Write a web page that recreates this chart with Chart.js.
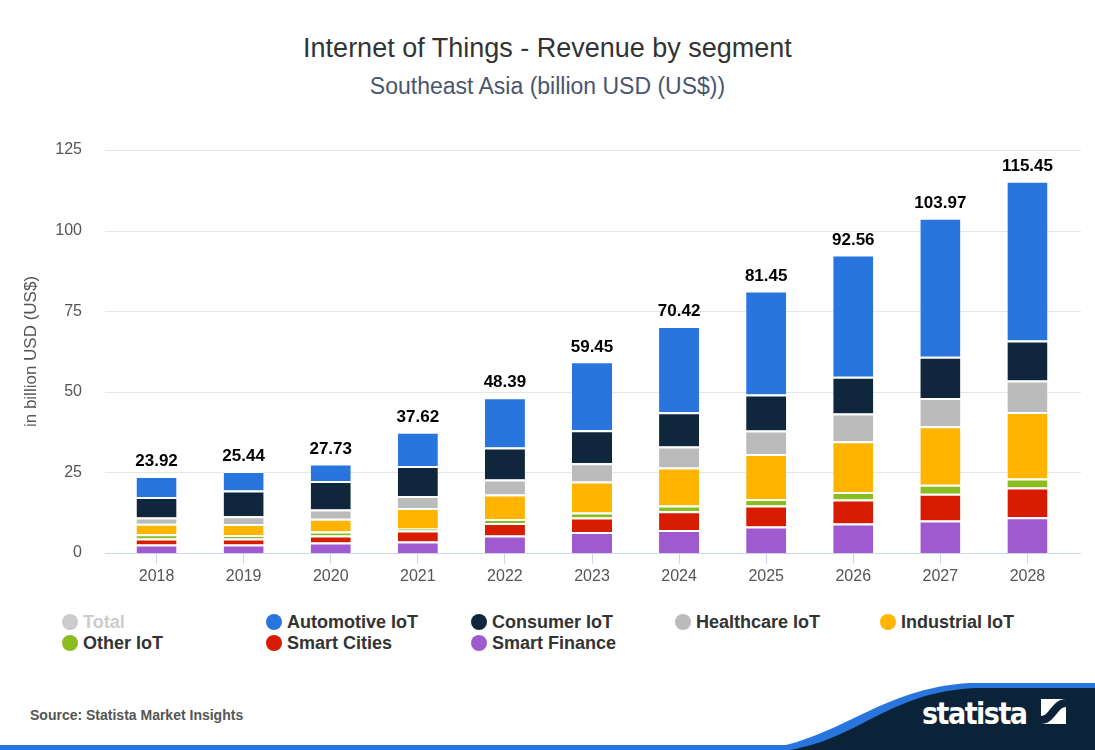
<!DOCTYPE html>
<html>
<head>
<meta charset="utf-8">
<script src="https://cdn.jsdelivr.net/npm/chart.js@4"></script>
<style>
  html, body { margin: 0; padding: 0; background: #fff; }
  body { width: 1095px; height: 750px; position: relative; overflow: hidden; font-family: "Liberation Sans", Arial, sans-serif; }
  #title { position: absolute; top: 33px; left: 0; width: 1095px; text-align: center; font-size: 27px; color: #333; }
  #subtitle { position: absolute; top: 73px; left: 0; width: 1095px; text-align: center; font-size: 23px; color: #4a5570; }
  #wrap { position: absolute; left: 0; top: 0; width: 1095px; height: 600px; }
  #legend { position: absolute; left: 0; top: 612px; width: 1095px; }
  .item { position: absolute; font-size: 18px; font-weight: bold; color: #333; white-space: nowrap; }
  .dot { position: absolute; width: 16px; height: 16px; border-radius: 50%; left: -21px; top: 2px; }
  #source { position: absolute; left: 30px; top: 707px; font-size: 14px; font-weight: bold; color: #555; }
  #footer { position: absolute; left: 0; top: 670px; }
</style>
</head>
<body>
<div id="title">Internet of Things - Revenue by segment</div>
<div id="subtitle">Southeast Asia (billion USD (US$))</div>
<div id="wrap"><canvas id="chart"></canvas></div>
<div id="legend"></div>
<div id="source">Source: Statista Market Insights</div>
<svg id="footer" width="1095" height="80" viewBox="0 670 1095 80">
  <rect x="0" y="745" width="1095" height="5" fill="#2876dd"/>
  <path d="M 760 750 C 840 740, 880 688, 970 683 L 1095 683 L 1095 750 Z" fill="#2876dd"/>
  <path d="M 790 750 C 860 738, 890 692, 975 688 L 1095 688 L 1095 750 Z" fill="#0b2338"/>
  <text x="922" y="724" fill="#fff" font-family="'DejaVu Sans Condensed', 'DejaVu Sans', sans-serif" font-weight="bold" font-size="30" textLength="106">statista</text>
  <rect x="1041" y="699" width="25" height="25" fill="#fff"/>
  <path d="M 1041 724 L 1041 716 C 1050 716, 1052 699, 1066 699 L 1066 707 C 1057 707, 1055 724, 1041 724 Z" fill="#0b2338"/>
</svg>
<script>
// categories and values (billion USD)
const years = ['2018', '2019', '2020', '2021', '2022', '2023', '2024', '2025', '2026', '2027', '2028'];
const totals = [23.92, 25.44, 27.73, 37.62, 48.39, 59.45, 70.42, 81.45, 92.56, 103.97, 115.45];

const smartFinance = [2.6, 2.6, 3.26, 3.57, 5.43, 6.5, 7.13, 8.2, 9.15, 10.1, 11.07];
const smartCities = [1.9, 1.9, 2.17, 3.4, 3.9, 4.5, 5.8, 6.5, 7.45, 8.3, 9.25];
const otherIoT = [1.3, 1.0, 1.24, 0.6, 1.2, 1.55, 1.8, 2.05, 2.3, 2.8, 2.8];
const industrialIoT = [3.3, 3.5, 3.94, 6.4, 7.6, 9.6, 11.8, 13.95, 15.8, 18.1, 20.6];
const healthcareIoT = [1.9, 2.4, 2.9, 3.7, 4.7, 5.7, 6.5, 7.3, 8.6, 8.8, 9.8];
const consumerIoT = [6.4, 8.0, 8.8, 9.3, 9.9, 10.2, 10.6, 11.2, 11.4, 12.75, 12.4];
const automotiveIoT = [6.52, 6.04, 5.42, 10.65, 15.56, 21.4, 26.79, 32.25, 37.86, 43.12, 49.53];

const yTicks = [0, 25, 50, 75, 100, 125];

const colors = {
  total: '#cccccc',
  automotive: '#2876dd',
  consumer: '#0f263d',
  healthcare: '#bbbbbb',
  industrial: '#ffb400',
  other: '#8bbc21',
  cities: '#d71c00',
  finance: '#a05ad0'
};

const FONT = '"Liberation Sans", Arial, sans-serif';

function seg(label, data, color) {
  return {
    label: label,
    data: data,
    backgroundColor: color,
    borderColor: '#ffffff',
    borderWidth: { top: 2, bottom: 0, left: 0, right: 0 },
    borderSkipped: false,
    stack: 's',
    barPercentage: 1,
    categoryPercentage: 0.46
  };
}

const datasets = [
  seg('Smart Finance', smartFinance, colors.finance),
  seg('Smart Cities', smartCities, colors.cities),
  seg('Other IoT', otherIoT, colors.other),
  seg('Industrial IoT', industrialIoT, colors.industrial),
  seg('Healthcare IoT', healthcareIoT, colors.healthcare),
  seg('Consumer IoT', consumerIoT, colors.consumer),
  seg('Automotive IoT', automotiveIoT, colors.automotive)
];

// horizontal grid lines that run a bit past the plot area, like the original
const gridPlugin = {
  id: 'wideGrid',
  beforeDatasetsDraw(chart) {
    const ctx = chart.ctx;
    const y = chart.scales.y;
    const a = chart.chartArea;
    ctx.save();
    ctx.lineWidth = 1;
    yTicks.forEach(v => {
      const py = Math.round(y.getPixelForValue(v)) + 0.5;
      ctx.strokeStyle = v === 0 ? '#ccd6eb' : '#e6e6e6';
      ctx.beginPath();
      ctx.moveTo(a.left - 8, py);
      ctx.lineTo(a.right + 10, py);
      ctx.stroke();
    });
    ctx.restore();
  }
};

// total labels above each stack
const totalLabels = {
  id: 'totalLabels',
  afterDatasetsDraw(chart) {
    const ctx = chart.ctx;
    const x = chart.scales.x;
    const y = chart.scales.y;
    ctx.save();
    ctx.font = 'bold 17px ' + FONT;
    ctx.fillStyle = '#000';
    ctx.textAlign = 'center';
    ctx.textBaseline = 'bottom';
    totals.forEach((t, i) => {
      ctx.fillText(t.toFixed(2), x.getPixelForValue(i), y.getPixelForValue(t) - 6);
    });
    ctx.restore();
  }
};

const chart = new Chart(document.getElementById('chart'), {
  type: 'bar',
  data: { labels: years, datasets: datasets },
  options: {
    responsive: true,
    maintainAspectRatio: false,
    animation: false,
    layout: { padding: { left: 0, right: 24, top: 150, bottom: 0 } },
    plugins: {
      legend: { display: false },
      tooltip: { enabled: false }
    },
    scales: {
      x: {
        stacked: true,
        afterFit: (scale) => { scale.height = 47; },
        grid: {
          offset: false,
          drawOnChartArea: false,
          drawTicks: true,
          tickLength: 11,
          color: '#ccd6eb'
        },
        border: { display: false },
        ticks: {
          color: '#555',
          padding: 3,
          font: { family: FONT, size: 16 }
        }
      },
      y: {
        stacked: true,
        min: 0,
        max: 125,
        afterFit: (scale) => { scale.width = 113; },
        afterBuildTicks: (scale) => { scale.ticks = yTicks.map(v => ({ value: v })); },
        grid: { display: false, drawTicks: false },
        border: { display: false },
        ticks: {
          color: '#555',
          padding: 31,
          font: { family: FONT, size: 16 }
        },
        title: {
          display: true,
          text: 'in billion USD (US$)',
          color: '#555',
          padding: { top: 21, bottom: 0 },
          font: { family: FONT, size: 17 }
        }
      }
    }
  },
  plugins: [gridPlugin, totalLabels]
});

// legend laid out in fixed columns, built from the chart's datasets
const legendOrder = [
  { label: 'Total', color: colors.total, faded: true },
  'Automotive IoT', 'Consumer IoT', 'Healthcare IoT', 'Industrial IoT',
  'Other IoT', 'Smart Cities', 'Smart Finance'
];
const colX = [83, 287, 492, 696, 901];
const legendEl = document.getElementById('legend');
legendOrder.forEach((entry, i) => {
  let label, color, faded = false;
  if (typeof entry === 'string') {
    const ds = chart.data.datasets.find(d => d.label === entry);
    label = ds.label;
    color = ds.backgroundColor;
  } else {
    label = entry.label; color = entry.color; faded = entry.faded;
  }
  const div = document.createElement('div');
  div.className = 'item';
  div.style.left = colX[i % 5] + 'px';
  div.style.top = (Math.floor(i / 5) * 21) + 'px';
  if (faded) div.style.color = '#cccccc';
  div.innerHTML = '<span class="dot" style="background:' + color + '"></span>' + label;
  legendEl.appendChild(div);
});
</script>
</body>
</html>
